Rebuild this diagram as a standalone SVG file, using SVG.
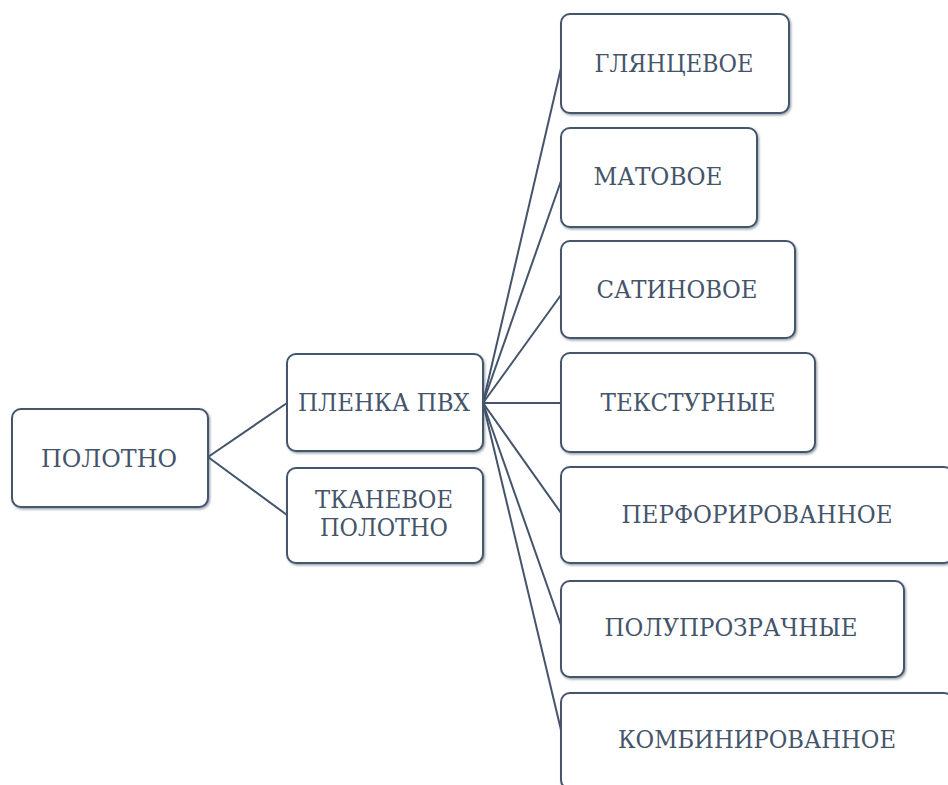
<svg xmlns="http://www.w3.org/2000/svg" width="948" height="785" viewBox="0 0 948 785">
<defs>
<filter id="sh" x="-5%" y="-5%" width="115%" height="115%">
<feDropShadow dx="1.2" dy="1.5" stdDeviation="0.8" flood-color="#44546a" flood-opacity="0.55"/>
</filter>
</defs>
<style>
.box{fill:#fff;stroke:#44546a;stroke-width:2;filter:url(#sh)}
.t{font-size:25px;fill:#44546a;text-anchor:middle}
.c{stroke:#44546a;stroke-width:2;fill:none}
</style>
<rect width="948" height="785" fill="#fff"/>
<g id="connectors">
<line class="c" x1="208" y1="457" x2="287" y2="403"/>
<line class="c" x1="208" y1="457" x2="287" y2="515"/>
<line class="c" x1="483" y1="403" x2="561" y2="68"/>
<line class="c" x1="483" y1="403" x2="561" y2="181"/>
<line class="c" x1="483" y1="403" x2="561" y2="295"/>
<line class="c" x1="483" y1="403" x2="561" y2="403"/>
<line class="c" x1="483" y1="403" x2="561" y2="513"/>
<line class="c" x1="483" y1="403" x2="561" y2="625"/>
<line class="c" x1="483" y1="403" x2="561" y2="730"/>
</g>
<g font-family="DejaVu Serif, Liberation Serif, serif">
<g id="polotno">
<rect class="box" x="12" y="409" width="196" height="98" rx="9"/>
<text class="t" x="109" y="467" textLength="136" lengthAdjust="spacingAndGlyphs">ПОЛОТНО</text>
</g>
<g id="plenka">
<rect class="box" x="287" y="354" width="196" height="97" rx="9"/>
<text class="t" x="384" y="411" textLength="172" lengthAdjust="spacingAndGlyphs">ПЛЕНКА ПВХ</text>
</g>
<g id="tkanevoe">
<rect class="box" x="287" y="468" width="196" height="95" rx="9"/>
<text class="t" x="384" y="508" textLength="138" lengthAdjust="spacingAndGlyphs">ТКАНЕВОЕ</text>
<text class="t" x="384" y="536" textLength="128" lengthAdjust="spacingAndGlyphs">ПОЛОТНО</text>
</g>
<g id="glyancevoe">
<rect class="box" x="561" y="14" width="228" height="99" rx="9"/>
<text class="t" x="674" y="72" textLength="159" lengthAdjust="spacingAndGlyphs">ГЛЯНЦЕВОЕ</text>
</g>
<g id="matovoe">
<rect class="box" x="561" y="128" width="196" height="99" rx="9"/>
<text class="t" x="658" y="185" textLength="129" lengthAdjust="spacingAndGlyphs">МАТОВОЕ</text>
</g>
<g id="satinovoe">
<rect class="box" x="561" y="241" width="234" height="97" rx="9"/>
<text class="t" x="677" y="298" textLength="161" lengthAdjust="spacingAndGlyphs">САТИНОВОЕ</text>
</g>
<g id="teksturnye">
<rect class="box" x="561" y="353" width="254" height="99" rx="9"/>
<text class="t" x="688" y="411" textLength="175" lengthAdjust="spacingAndGlyphs">ТЕКСТУРНЫЕ</text>
</g>
<g id="perforirovannoe">
<rect class="box" x="561" y="467" width="392" height="96" rx="9"/>
<text class="t" x="757" y="523" textLength="271" lengthAdjust="spacingAndGlyphs">ПЕРФОРИРОВАННОЕ</text>
</g>
<g id="poluprozrachnye">
<rect class="box" x="561" y="581" width="343" height="96" rx="9"/>
<text class="t" x="731" y="636" textLength="253" lengthAdjust="spacingAndGlyphs">ПОЛУПРОЗРАЧНЫЕ</text>
</g>
<g id="kombinirovannoe">
<rect class="box" x="561" y="693" width="392" height="96" rx="9"/>
<text class="t" x="757" y="748" textLength="278" lengthAdjust="spacingAndGlyphs">КОМБИНИРОВАННОЕ</text>
</g>
</g>
</svg>
